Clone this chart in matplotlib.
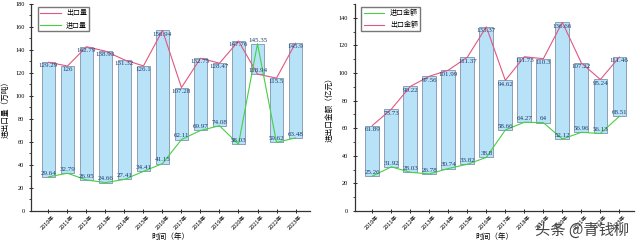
import matplotlib
matplotlib.use("Agg")
import matplotlib.pyplot as plt
from matplotlib.ticker import MultipleLocator
import numpy as np

plt.rcParams['font.family'] = ['Liberation Serif', 'Noto Sans CJK SC', 'DejaVu Sans']

years = [str(y) + "年" for y in range(2010, 2024)]

# left chart: volume (10k tonnes)
exportVolume = [129.29, 126, 142.79, 138.93, 131.32, 126.1, 156.94,
                107.28, 132.75, 128.47, 147.76, 118.94, 115.5, 145.9]
importVolume = [29.64, 32.79, 26.95, 24.66, 27.41, 34.41, 41.15,
                62.11, 69.97, 74.08, 58.03, 145.35, 59.62, 63.48]

# right chart: value (100M yuan)
exportValue = [61.89, 73.73, 90.22, 97.56, 101.99, 111.37, 133.37,
               94.62, 111.73, 110.3, 136.66, 107.22, 95.24, 111.46]
importValue = [25.26, 31.92, 28.03, 26.78, 30.74, 33.82, 38.8,
               58.66, 64.27, 64, 52.12, 56.96, 56.13, 68.51]

barColor = '#b8e2f8'
barEdge = '#7f93ab'
redColor = '#e0577f'
greenColor = '#45d045'
labelColor = '#1d3a6b'


def fmt(v):
    s = ('%.2f' % v).rstrip('0').rstrip('.')
    return s


def drawPanel(ax, exports, imports, ylim, major, ylabel, legendOrder):
    """ Draw one floating bar panel with export and import lines. """
    x = np.arange(len(years))
    lows = np.minimum(exports, imports)
    highs = np.maximum(exports, imports)
    ax.bar(x, highs - lows, bottom=lows, width=0.72, color=barColor,
           edgecolor=barEdge, linewidth=0.6, zorder=2)
    ax.plot(x, exports, color=redColor, lw=0.8, zorder=3, label=legendOrder['export'])
    ax.plot(x, imports, color=greenColor, lw=0.8, zorder=3, label=legendOrder['import'])

    for i in x:
        e, m = exports[i], imports[i]
        ax.text(i, m + 1, fmt(m), ha='center', va='bottom', fontsize=5,
                color=labelColor, zorder=4)
        if e > m:
            ax.text(i, e - 1, fmt(e), ha='center', va='top', fontsize=5,
                    color=labelColor, zorder=4)
        else:
            ax.text(i, e + 1, fmt(e), ha='center', va='bottom', fontsize=5,
                    color=labelColor, zorder=4)

    ax.set_xlim(-0.9, len(years) - 0.25)
    ax.set_ylim(*ylim)
    ax.yaxis.set_major_locator(MultipleLocator(major))
    ax.yaxis.set_minor_locator(MultipleLocator(major / 2))
    ax.set_xticks(x)
    ax.set_xticklabels(years, rotation=45, fontsize=4,
                       family=['Noto Sans CJK SC'])
    ax.tick_params(axis='y', labelsize=4.5, direction='inout', length=3,
                   width=0.6)
    ax.tick_params(axis='y', which='minor', direction='out', length=1.5,
                   width=0.5)
    ax.tick_params(axis='x', direction='inout', length=3, width=0.6, pad=1)
    for side in ['top', 'right']:
        ax.spines[side].set_visible(False)
    for side in ['left', 'bottom']:
        ax.spines[side].set_linewidth(0.9)
        ax.spines[side].set_color('#333333')
    ax.set_ylabel(ylabel, fontsize=5.5, family=['Noto Sans CJK SC'],
                  labelpad=4)
    ax.set_xlabel("时间（年）", fontsize=5.5, family=['Noto Sans CJK SC'],
                  labelpad=2)


figure = plt.figure(figsize=(6.4, 2.45), dpi=100)

ax1 = figure.add_axes([0.049, 0.139, 0.435, 0.845])
drawPanel(ax1, exportVolume, importVolume, (0, 180), 20, "进出口量（万吨）",
          {'export': '出口量', 'import': '进口量'})
h, l = ax1.get_legend_handles_labels()
ax1.legend(h, l, loc='upper left', frameon=True, fancybox=False,
           edgecolor='#555555', borderpad=0.3, handlelength=3,
           bbox_to_anchor=(0.01, 1.0), prop={'family': 'Noto Sans CJK SC', 'size': 5})

ax2 = figure.add_axes([0.555, 0.139, 0.435, 0.845])
drawPanel(ax2, exportValue, importValue, (0, 150), 20, "进出口金额（亿元）",
          {'export': '出口金额', 'import': '进口金额'})
h, l = ax2.get_legend_handles_labels()
ax2.legend([h[1], h[0]], [l[1], l[0]], loc='upper left', frameon=True,
           fancybox=False, edgecolor='#555555', borderpad=0.3, handlelength=3,
           bbox_to_anchor=(0.01, 1.0), prop={'family': 'Noto Sans CJK SC', 'size': 5})

figure.text(0.91, 0.06, "头条 @青钱柳", fontsize=11, color='#444444',
            family=['Noto Sans CJK SC'], ha='center', va='center')

figure.savefig("out.png", dpi=100)
plt.close(figure)
